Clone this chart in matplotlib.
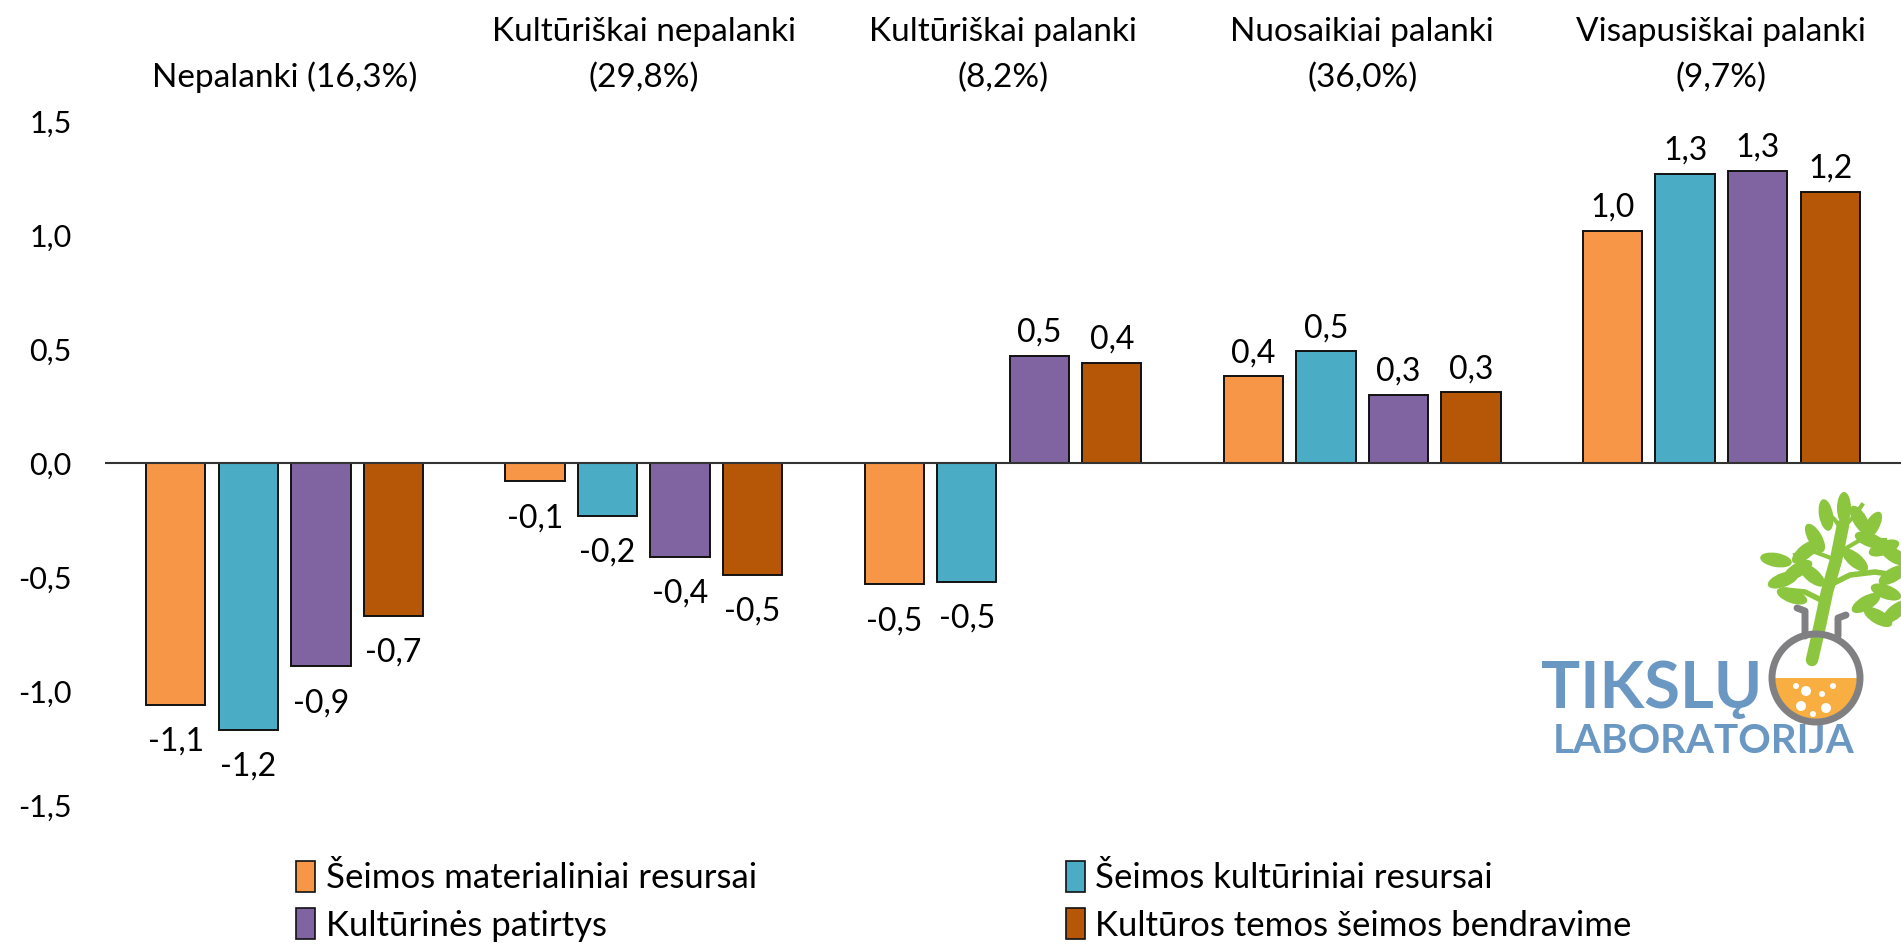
import matplotlib
matplotlib.use("Agg")
import matplotlib.pyplot as plt
import matplotlib.patches as mpatches
import matplotlib.transforms as mtransforms
import numpy as np

plt.rcParams['font.family'] = ['Lato', 'DejaVu Sans']

# groups (headers) and series
groups = ["Nepalanki (16,3%)", "Kultūriškai nepalanki\n(29,8%)", "Kultūriškai palanki\n(8,2%)",
          "Nuosaikiai palanki\n(36,0%)", "Visapusiškai palanki\n(9,7%)"]
series_names = ["Šeimos materialiniai resursai", "Šeimos kultūriniai resursai",
                "Kultūrinės patirtys", "Kultūros temos šeimos bendravime"]
materialiniai = [-1.06, -0.08, -0.53, 0.38, 1.02]
kulturiniai = [-1.17, -0.23, -0.52, 0.49, 1.27]
patirtys = [-0.89, -0.41, 0.47, 0.30, 1.28]
bendravimas = [-0.67, -0.49, 0.44, 0.31, 1.19]
yticks = [-1.5, -1.0, -0.5, 0.0, 0.5, 1.0, 1.5]

colors = ["#F79646", "#4BACC6", "#8064A2", "#B65708"]
all_series = [materialiniai, kulturiniai, patirtys, bendravimas]

W, H = 1901, 947
fig = plt.figure(figsize=(W / 100, H / 100), dpi=100)
ax = fig.add_axes([105 / W, 0.150, 1 - 105 / W, 0.722])

x = np.arange(len(groups))
slot = 0.202
bw = 0.165
for i, (vals, col) in enumerate(zip(all_series, colors)):
    xs = x + (i - 1.5) * slot
    ax.bar(xs, vals, width=bw, color=col, edgecolor="#111111", linewidth=1.4, zorder=2)
    for xi, v in zip(xs, vals):
        txt = f"{v:.1f}".replace(".", ",")
        if v >= 0:
            ax.annotate(txt, (xi, v), xytext=(0, 6), textcoords="offset points",
                        ha="center", va="bottom", fontsize=23)
        else:
            ax.annotate(txt, (xi, v), xytext=(0, -16), textcoords="offset points",
                        ha="center", va="top", fontsize=23)

ax.axhline(0, color="#333333", linewidth=1.5, zorder=3)
ax.set_xlim(-0.5, 4.5)
ax.set_ylim(-1.5, 1.5)
ax.set_yticks(yticks)
ax.set_yticklabels([f"{t:.1f}".replace(".", ",") for t in yticks], fontsize=22)
ax.set_xticks([])
ax.tick_params(axis="y", length=0, pad=24)
for s in ax.spines.values():
    s.set_visible(False)

# group headers above the plot
trans = mtransforms.blended_transform_factory(ax.transData, fig.transFigure)
for xi, g in zip(x, groups):
    ax.text(xi, (H - 93) / H, g, transform=trans, ha="center", va="bottom",
            fontsize=24, linespacing=1.62, clip_on=False)

# legend
handles = [mpatches.Patch(facecolor=c, edgecolor="#111111", linewidth=1.2) for c in colors]
order = [0, 2, 1, 3]
fig.legend([handles[k] for k in order], [series_names[k] for k in order],
           ncol=2, loc="upper left", bbox_to_anchor=(296 / W, (H - 861) / H), frameon=False,
           fontsize=25, handlelength=0.55, handleheight=1.0, handletextpad=0.3,
           columnspacing=8.9, labelspacing=0.4, borderpad=0, borderaxespad=0)

# logo (decoration) drawn in pixel coordinates
lg = fig.add_axes([0, 0, 1, 1], zorder=5)
lg.set_xlim(0, W)
lg.set_ylim(H, 0)
lg.axis("off")
blue = "#6A98C2"
lg.text(1541, 708, "TIKSLŲ", color=blue, fontsize=47, fontweight="bold", ha="left", va="baseline")
lg.text(1553, 753, "LABORATORIJA", color=blue, fontsize=29, fontweight="bold", ha="left", va="baseline")
green = "#8CC63F"
# trunk and branches
lg.plot([1812, 1820, 1827, 1836, 1843], [660, 625, 592, 560, 525], color=green, lw=9, solid_capstyle="round")
lg.plot([1825, 1805, 1785], [602, 592, 590], color=green, lw=4)
lg.plot([1830, 1850, 1875, 1895], [585, 575, 572, 575], color=green, lw=4)
lg.plot([1836, 1815, 1795], [560, 552, 555], color=green, lw=3)
lg.plot([1838, 1860, 1885], [553, 540, 540], color=green, lw=3)
lg.plot([1842, 1835, 1827], [530, 520, 512], color=green, lw=3)
lg.plot([1843, 1855, 1862], [528, 515, 505], color=green, lw=3)
leaves = [(1776, 560, 10), (1783, 580, 160), (1792, 596, 20), (1805, 552, 140), (1815, 538, 60),
          (1826, 515, 80), (1844, 508, 90), (1860, 520, 60), (1870, 540, 20), (1884, 548, 160),
          (1895, 556, 30), (1893, 575, 150), (1886, 592, 20), (1866, 603, 150), (1878, 617, 30),
          (1895, 612, 140), (1812, 575, 40), (1798, 570, 150),
          (1855, 560, 40), (1872, 526, 120)]
for (lx, ly, ang) in leaves:
    lg.add_patch(mpatches.Ellipse((lx, ly), 32, 14, angle=ang, facecolor=green, edgecolor="none"))
cx, cy, r = 1816, 678, 44
lg.add_patch(mpatches.Wedge((cx, cy), r - 3, 0, 180, facecolor="#F9AE42", edgecolor="none", zorder=3))
lg.add_patch(mpatches.Circle((cx, cy), r, facecolor="none", edgecolor="#808083", linewidth=5, zorder=4))
lg.plot([1805, 1805, 1797], [636, 611, 608], color="#808083", lw=5, solid_capstyle="round", zorder=4)
lg.plot([1838, 1838, 1846], [636, 618, 615], color="#808083", lw=5, solid_capstyle="round", zorder=4)
for (bx, by, br) in [(1796, 686, 3), (1806, 691, 5), (1822, 694, 3), (1833, 686, 3),
                     (1801, 706, 5), (1826, 708, 5), (1813, 714, 3)]:
    lg.add_patch(mpatches.Circle((bx, by), br, facecolor="white", edgecolor="none", zorder=5))

fig.savefig("out.png", dpi=100)
